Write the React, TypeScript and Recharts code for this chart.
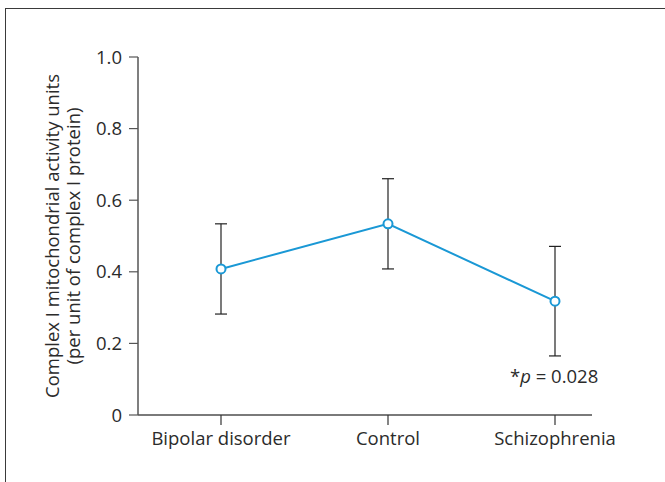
import React from 'react';
import { LineChart, Line, XAxis, YAxis, ErrorBar } from 'recharts';

const groups = ['Bipolar disorder', 'Control', 'Schizophrenia'];
const activity = [0.408, 0.534, 0.318];
const errors = [0.126, 0.126, 0.153];
const yTicks = [0, 0.2, 0.4, 0.6, 0.8, 1.0];
const yLabelLines = ['Complex I mitochondrial activity units', '(per unit of complex I protein)'];

const chartData = groups.map((g, i) => ({ group: g, value: activity[i], err: errors[i] }));

const FONT = '"Open Sans", "Noto Sans", sans-serif';
const TEXT = '#2b2b2b';
const FS = 18.5;

function YLabel(props: any) {
  const { viewBox } = props;
  const cy = viewBox.y + viewBox.height / 2;
  return (
    <g>
      {yLabelLines.map((t, i) => (
        <text
          key={i}
          x={0}
          y={0}
          transform={`translate(${59 + i * 21}, ${cy}) rotate(-90)`}
          textAnchor="middle"
          fontSize={FS}
          fontFamily={FONT}
          fill={TEXT}
        >
          {t}
        </text>
      ))}
    </g>
  );
}

export default function App() {
  return (
    <div style={{ position: 'absolute', left: 0, top: 0, width: 665, height: 482, background: '#fff', overflow: 'hidden' }}>
      <div
        style={{
          position: 'absolute',
          left: 5,
          top: 8,
          width: 700,
          height: 500,
          borderLeft: '1.5px solid #3a3a3a',
          borderTop: '1.5px solid #3a3a3a',
        }}
      />
      <div style={{ position: 'absolute', left: 0, top: 0 }}>
        <LineChart width={665} height={482} data={chartData} margin={{ top: 57, right: 73, left: 0, bottom: 27 }}>
          <XAxis
            dataKey="group"
            padding={{ left: 83, right: 37 }}
            height={40}
            tickSize={10}
            tickMargin={7}
            axisLine={{ stroke: '#7a7a7a', strokeWidth: 2 }}
            tickLine={{ stroke: '#333', strokeWidth: 1.2 }}
            tick={{ fill: TEXT, fontSize: FS, fontFamily: FONT }}
          />
          <YAxis
            domain={[0, 1]}
            ticks={yTicks}
            width={138}
            tickSize={9}
            tickMargin={7}
            tickFormatter={(v: number) => (v === 0 ? '0' : v.toFixed(1))}
            axisLine={{ stroke: '#555', strokeWidth: 1.5 }}
            tickLine={{ stroke: '#555', strokeWidth: 1.2 }}
            tick={{ fill: TEXT, fontSize: FS, fontFamily: FONT }}
            label={<YLabel />}
          />
          <Line
            dataKey="value"
            stroke="#1a98d5"
            strokeWidth={2}
            isAnimationActive={false}
            dot={{ r: 4.5, fill: '#fff', stroke: '#1a98d5', strokeWidth: 2 }}
          >
            <ErrorBar dataKey="err" width={6} stroke="#222" strokeWidth={1.2} />
          </Line>
        </LineChart>
      </div>
      <div
        style={{
          position: 'absolute',
          left: 510,
          top: 363,
          fontFamily: FONT,
          fontSize: FS,
          color: TEXT,
          whiteSpace: 'nowrap',
        }}
      >
        *<i>p</i> = 0.028
      </div>
    </div>
  );
}
